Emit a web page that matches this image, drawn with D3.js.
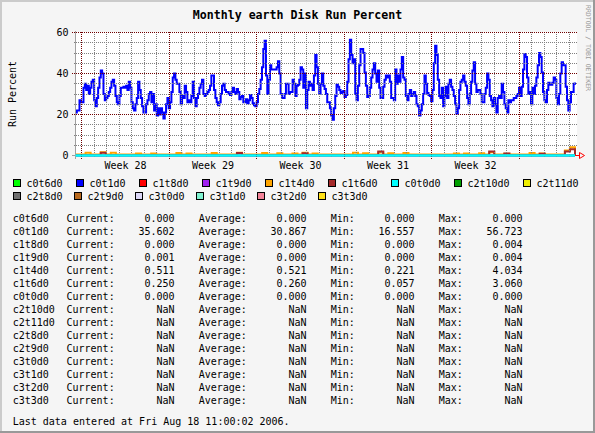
<!DOCTYPE html>
<html><head><meta charset="utf-8">
<script src="https://cdn.jsdelivr.net/npm/d3@7"></script>
<style>
html,body{margin:0;padding:0;background:#f5f5f5;}
svg{display:block;}
text{font-family:"DejaVu Sans Mono","Liberation Mono",monospace;}
</style>
</head><body>
<svg id="chart" width="595" height="433"></svg>
<script>
// ---------------- DATA ----------------
const titleText = "Monthly earth Disk Run Percent";
const yAxisTitle = "Run Percent";
const yTickValues = [0, 20, 40, 60];
const yMinorStep = 5;
const weekLabelPrefix = "Week ";
const lastUpdate = "Last data entered at Fri Aug 18 11:00:02 2006.";
const watermark = "RRDTOOL / TOBI OETIKER";

const viewStart = new Date(2006, 6, 9, 12, 0, 0);
const viewEnd = new Date(2006, 7, 18, 12, 0, 0);
const dataStart = new Date(2006, 6, 9, 12, 0, 0);
const dataEnd = new Date(2006, 7, 18, 11, 0, 0);

const seriesNames = ["c0t6d0","c0t1d0","c1t8d0","c1t9d0","c1t4d0","c1t6d0","c0t0d0","c2t10d0","c2t11d0",
                     "c2t8d0","c2t9d0","c3t0d0","c3t1d0","c3t2d0","c3t3d0"];
const seriesColors = ["#00ff00","#0000ff","#ff0000","#a020f0","#ffa500","#a52a2a","#00ffff","#009f00","#eeee00",
                      "#707070","#b8691e","#dcd8f8","#7ff2d0","#f28398","#ffe119"];

// statistics (NaN = no data)
const statCurrent = [0.000, 35.602, 0.000, 0.001, 0.511, 0.250, 0.000, NaN, NaN, NaN, NaN, NaN, NaN, NaN, NaN];
const statAverage = [0.000, 30.867, 0.000, 0.000, 0.521, 0.260, 0.000, NaN, NaN, NaN, NaN, NaN, NaN, NaN, NaN];
const statMin     = [0.000, 16.557, 0.000, 0.000, 0.221, 0.057, 0.000, NaN, NaN, NaN, NaN, NaN, NaN, NaN, NaN];
const statMax     = [0.000, 56.723, 0.004, 0.004, 4.034, 3.060, 0.000, NaN, NaN, NaN, NaN, NaN, NaN, NaN, NaN];

// c0t1d0 run percent (evenly sampled over the data period)
const c0t1d0 = [
21,22,22,27,26,26,33,35,32,34,30,33,36,37,27,24,28,33,38,41.5,40,30,27,28,29,31,33,36,37,34,29,26,25,29,33,33,
33.5,33,34,32,36,33,26,23,22,25,28,36,32,28,24,21,21,25,27,30,31,26,30,22,25,19.5,23,20,23,21,18,21,25,28,23,26,
31,38,40,37,35,35,31,25,29,28,34,31,26,27,26,29,36,28,24,28,30,33,35,37,
30,29,30,31,32,34,39,39,32,28,26,24.5,26,30,34,35,32,31,31,30,29.5,31,33,31,30,32.5,31,27.5,28.5,29,26,26,27.5,
25.5,27,29.5,28,25.5,24.5,24,26,30,32.5,37,43,52,56,39,30,37,44,42,42,42,42,43,46,40,30,28,28,30,35,35,30,31,31,
37,35,29,34,34.5,37,43,42,33,40,23,32,36,34,35,32,39,49,43,35,30,35,40,34,32.5,30,26,
26,23,19.5,17.5,23,29,34.5,33.5,32,30.5,31,31.5,28.5,29.5,36,47,56.5,49,45,47,30,27,34,44,52,52,50,40.5,34,28.5,
29,33,38,42,45,40,36,41.5,33,28,28,33.5,37,39,38,39,36,28,28,27,42,35,39,36,42,48,38,37,29,27,30,32,29,30,31,29,
25,24,19.5,22,25,30,39,35,30.5,29.5,29,26.5,32,45,53.5,49,37,29,28,33,24,29,33.5,28,35,37,33.5,32,
29,25,20.5,23,32,36,37,39,36,34,28,25,30,36,41.5,45.5,35,31,32,32,30,26,26,30,33,40,37,29,27,24,28,25,21,28,29,
28,35,31,25,23,21,27,26,27,27,28,28,29,30,33,29,33.5,42,49.5,48,38,30,31,25,33,30,34,38,44,50,48,40.5,31,27,26,
32,35.5,34.5,34.5,35.5,38,37,28,25,30,40,45.5,44,44,33.5,27,22,26,31,31,35,35.6
];

// small disks near zero
const c1t4d0 = [
0.5,0.5,1.3,0.5,0.5,1.6,0.5,1.3,0.5,0.5,0.5,0.5,1.0,0.5,0.5,1.0,0.5,0.5,0.5,0.5,
1.2,0.5,1.0,0.5,0.5,0.5,0.5,1.2,0.5,0.5,0.5,0.5,1.3,0.5,0.5,0.5,0.5,1.2,0.5,0.5,
1.1,0.5,0.5,1.0,0.5,1.4,0.5,1.0,0.5,0.5,0.5,0.5,0.5,0.5,0.5,1.3,0.5,1.1,0.5,0.5,
1.5,0.5,1.1,0.5,0.5,1.2,0.5,0.5,0.5,0.5,0.5,0.5,0.5,0.5,0.5,1.0,0.5,1.0,0.5,0.5,
1.1,0.5,1.6,0.5,0.5,0.9,0.5,0.5,0.5,0.5,1.2,0.5,1.0,0.5,0.5,0.5,0.5,2.5,4.0,0.51
];
const c1t6d0 = [
0.22,0.22,0.22,0.22,0.22,1.3,0.22,0.22,0.22,0.22,0.22,0.22,0.22,0.22,0.22,0.22,0.22,0.22,0.22,0.22,
0.22,0.22,0.22,0.22,0.22,0.22,0.22,0.22,0.22,0.22,0.22,0.22,1.2,0.22,0.22,0.22,0.22,0.22,0.22,0.22,
0.22,0.22,0.22,0.22,0.22,1.1,0.22,0.22,0.22,0.22,0.22,0.22,0.22,0.22,0.22,0.22,0.22,0.22,0.22,0.22,
2.0,0.22,0.22,0.22,0.22,0.22,0.22,0.22,0.22,0.22,0.22,0.22,0.22,0.22,0.22,0.22,0.22,0.22,0.22,0.22,
0.22,0.22,2.0,0.22,0.22,1.0,0.22,0.22,0.22,0.22,0.22,0.22,0.8,0.22,0.22,0.22,0.22,2.0,3.06,0.25
];
const c0t6d0 = [0,0,0,0,0,0,0,0,0,0];
const c1t8d0 = [0,0,0,0,0,0,0,0,0,0];
const c1t9d0 = [0,0,0,0,0,0,0,0,0,0];
const c0t0d0 = [0,0,0,0,0,0,0,0,0,0];

// draw order = legend order (only series with data)
const plotted = [
  {name:"c0t6d0", values:c0t6d0},
  {name:"c0t1d0", values:c0t1d0},
  {name:"c1t8d0", values:c1t8d0},
  {name:"c1t9d0", values:c1t9d0},
  {name:"c1t4d0", values:c1t4d0},
  {name:"c1t6d0", values:c1t6d0},
  {name:"c0t0d0", values:c0t0d0}
];

// ---------------- DRAW ----------------
const W = 595, H = 433;
const svg = d3.select("#chart");
const colorOf = d3.scaleOrdinal(seriesNames, seriesColors);

// background + 3D frame
svg.append("rect").attr("width", W).attr("height", H).attr("fill", "#f5f5f5");
svg.append("path").attr("d", `M0,0H${W}V2H2V${H}H0Z`).attr("fill", "#cbcbcb");
svg.append("path").attr("d", `M${W},0V${H}H0V${H-2}H${W-2}V0Z`).attr("fill", "#999999");

const plotLeft = 75.5, plotRight = 575.5, plotTop = 32.5, plotBottom = 155.5;
const x = d3.scaleTime().domain([viewStart, viewEnd]).range([plotLeft, plotRight]);
const y = d3.scaleLinear().domain([0, 60]).range([plotBottom, plotTop]);
const px = v => Math.floor(v) + 0.5;   // pixel-centred coordinate

// canvas
svg.append("rect").attr("x", 75).attr("y", 32)
  .attr("width", 502).attr("height", 124).attr("fill", "#ffffff");

// series
const lineGen = d3.line().x(d => x(d.t)).y(d => y(d.v)).curve(d3.curveStepAfter);
const gData = svg.append("g");
plotted.forEach(s => {
  const tScale = d3.scaleLinear().domain([0, s.values.length - 1]).range([+dataStart, +dataEnd]);
  const pts = s.values.map((v, i) => ({t: new Date(tScale(i)), v}));
  gData.append("path").datum(pts)
    .attr("fill", "none").attr("stroke", colorOf(s.name)).attr("stroke-width", 2)
    .attr("d", lineGen);
});

// grid (drawn over data, like rrdtool) as 1px dotted lines
const gGrid = svg.append("g");
const days = d3.timeDay.range(d3.timeDay.ceil(viewStart), viewEnd);
const weeks = d3.timeMonday.range(d3.timeMonday.ceil(viewStart), viewEnd);
const weekSet = new Set(weeks.map(d => +d));
const minorY = d3.range(0, 60 + 1e-9, yMinorStep).filter(v => !yTickValues.includes(v));

function vLine(sel, data, color, extra) {
  sel.selectAll(null).data(data).join("line")
    .attr("x1", d => px(x(d))).attr("x2", d => px(x(d)))
    .attr("y1", 32).attr("y2", 156 + extra)
    .attr("stroke", color).attr("stroke-dasharray", "1,1");
}
function hLine(sel, data, color, extra) {
  sel.selectAll(null).data(data).join("line")
    .attr("x1", 74 - extra).attr("x2", 577)
    .attr("y1", d => px(y(d))).attr("y2", d => px(y(d)))
    .attr("stroke", color).attr("stroke-dasharray", "1,1");
}
vLine(gGrid, days.filter(d => !weekSet.has(+d)), "#808080", 2);
hLine(gGrid, minorY, "#808080", 0);
vLine(gGrid, weeks, "#700000", 3);
hLine(gGrid, yTickValues.filter(v => v > 0), "#700000", 2);

// axes
svg.append("line").attr("x1", 75.5).attr("x2", 75.5).attr("y1", 31).attr("y2", 159)
  .attr("stroke", "#a0a0a0");
svg.append("line").attr("x1", 72).attr("x2", 577).attr("y1", px(y(0))).attr("y2", px(y(0)))
  .attr("stroke", "#a0a0a0");
// zero series redrawn on top of the axis
svg.append("path").datum(c0t0d0.map((v, i, a) => ({t: new Date(+dataStart + (dataEnd - dataStart) * i / (a.length - 1)), v})))
  .attr("fill", "none").attr("stroke", colorOf("c0t0d0")).attr("stroke-width", 2)
  .attr("d", lineGen);
svg.append("line").attr("x1", 575).attr("x2", 580).attr("y1", px(y(0))).attr("y2", px(y(0)))
  .attr("stroke", "#ff0000");
svg.append("path")
  .attr("d", `M579.5,${px(y(0)) - 3}L584.5,${px(y(0))}L579.5,${px(y(0)) + 3}Z`)
  .attr("fill", "none").attr("stroke", "#ff0000");

// y tick labels
svg.selectAll(".ylab").data(yTickValues).join("text")
  .attr("x", 68.5).attr("y", d => px(y(d)) + 3.6)
  .attr("text-anchor", "end").attr("font-size", "10px").attr("fill", "#000")
  .text(d => d);

// week labels (centred in each week)
svg.selectAll(".xlab").data(weeks.filter(d => +d3.timeMonday.offset(d, 1) <= +viewEnd)).join("text")
  .attr("x", d => x(d3.timeHour.offset(d, 84)))
  .attr("y", 169).attr("text-anchor", "middle").attr("font-size", "10px").attr("fill", "#000")
  .text(d => weekLabelPrefix + d3.timeFormat("%V")(d));

// title
svg.append("text").attr("x", 297.5).attr("y", 18.5).attr("text-anchor", "middle")
  .attr("font-size", "11.6px").attr("font-weight", "bold").text(titleText);

// y axis title
svg.append("text").attr("transform", "translate(12.7,94) rotate(-90)")
  .attr("text-anchor", "middle").attr("dominant-baseline", "central")
  .attr("font-size", "10px").text(yAxisTitle);

// watermark
svg.append("text").attr("transform", "translate(587.5,5) rotate(90)")
  .attr("dominant-baseline", "central").attr("font-size", "6.5px").attr("fill", "#9a9a9a")
  .attr("textLength", 86).attr("lengthAdjust", "spacingAndGlyphs").text(watermark);

// legend
const charW = 6.0, boxToText = 13.4;
const rows = [seriesNames.slice(0, 9), seriesNames.slice(9)];
const rowY = [179, 192];
rows.forEach((names, r) => {
  const widths = names.map(n => boxToText + n.length * charW);
  const total = d3.sum(widths);
  const gap = r === 0 ? (565.4 - total) / (names.length - 1) : 11.6;
  let cx = 13.3;
  names.forEach((n, i) => {
    const g = svg.append("g").attr("transform", `translate(${Math.round(cx)},${rowY[r]})`);
    g.append("rect").attr("x", 0.5).attr("y", 0.5).attr("width", 7).attr("height", 7)
      .attr("fill", colorOf(n)).attr("stroke", "#000");
    g.append("text").attr("x", boxToText).attr("y", 7.5).attr("font-size", "10px").text(n);
    cx += widths[i] + gap;
  });
});

// statistics table
const fmt = v => isNaN(v) ? "NaN" : d3.format(".3f")(v);
const statTop = 222, statStep = 13;
seriesNames.forEach((n, i) => {
  const g = svg.append("g").attr("transform", `translate(0,${statTop + i * statStep})`).attr("font-size", "10px");
  g.append("text").attr("x", 12.7).text(n);
  g.append("text").attr("x", 66.5).text("Current:");
  g.append("text").attr("x", 174.5).attr("text-anchor", "end").text(fmt(statCurrent[i]));
  g.append("text").attr("x", 198.7).text("Average:");
  g.append("text").attr("x", 306.5).attr("text-anchor", "end").text(fmt(statAverage[i]));
  g.append("text").attr("x", 330.7).text("Min:");
  g.append("text").attr("x", 414.5).attr("text-anchor", "end").text(fmt(statMin[i]));
  g.append("text").attr("x", 438.7).text("Max:");
  g.append("text").attr("x", 522.5).attr("text-anchor", "end").text(fmt(statMax[i]));
});
svg.append("text").attr("x", 12.7).attr("y", 425).attr("font-size", "10px").text(lastUpdate);
</script>
</body></html>
